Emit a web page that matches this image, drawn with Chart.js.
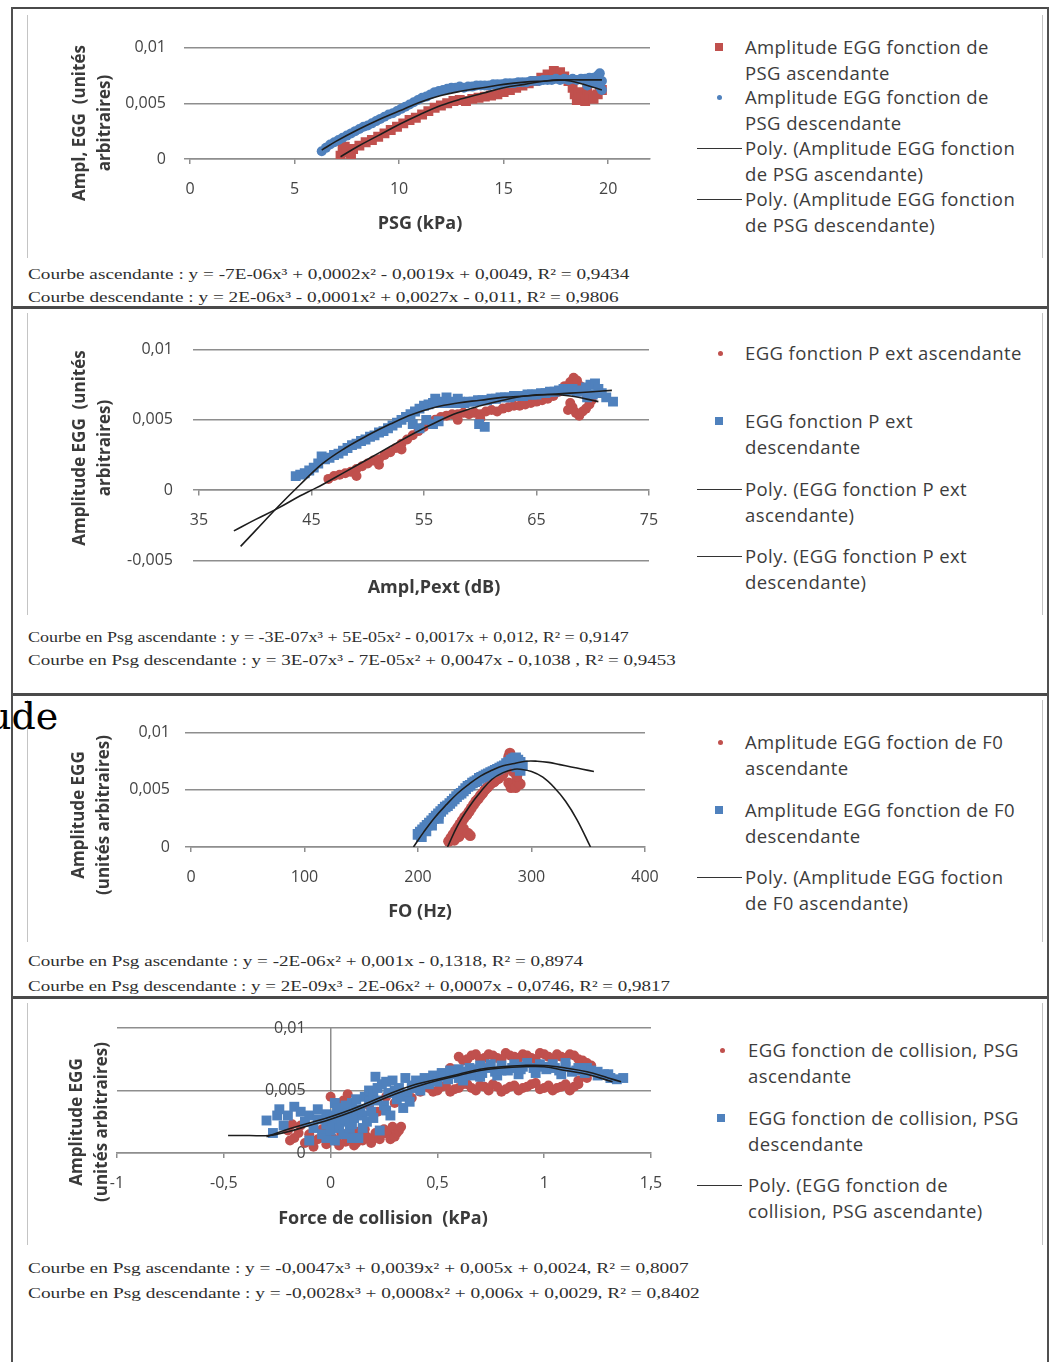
<!DOCTYPE html>
<html lang="fr">
<head>
<meta charset="utf-8">
<title>Amplitude EGG</title>
<script src="https://cdn.jsdelivr.net/npm/chart.js@4"></script>
<style>
  html, body { margin: 0; padding: 0; background: #fff; }
  body { width: 1056px; height: 1362px; position: relative; overflow: hidden; font-family: 'Open Sans', sans-serif; color: #3a3a3a; }
  canvas { position: absolute; }
  .sep { position: absolute; height: 0; border-top: 3px solid #4a4a4a; }
  .vl { position: absolute; width: 0; border-left: 2px solid #505050; }
  .vlight { position: absolute; width: 0; border-left: 1px solid #c4c4c4; }
  .leg { position: absolute; left: 745px; font-size: 18.5px; letter-spacing: 0.4px; line-height: 26px; color: #3c3c3c; white-space: nowrap; }
  .mk { position: absolute; }
  .ln { position: absolute; left: 697px; width: 45px; height: 0; border-top: 1.5px solid #333; }
  .eq { position: absolute; left: 28px; font-family: 'Liberation Serif', serif; font-size: 15px; line-height: 20px; color: #2e2e2e; white-space: nowrap; transform-origin: 0 50%; }
  .ttl { position: absolute; font-weight: 700; font-size: 18px; color: #3a3a3a; white-space: nowrap; transform: translate(-50%, -50%); }
  .ytl { position: absolute; font-weight: 700; font-size: 17px; line-height: 25px; text-align: center; color: #3a3a3a; white-space: nowrap; transform: translate(-50%, -50%) rotate(-90deg); }
  .stray { position: absolute; left: -13px; top: 696px; font-family: 'DejaVu Serif', serif; font-size: 38px; line-height: 40px; color: #000; }
</style>
</head>
<body>

<!-- frame -->
<div class="sep" style="left:11px; top:7px; width:1038px; border-top-width:2px"></div>
<div class="sep" style="left:11px; top:306px; width:1038px"></div>
<div class="sep" style="left:11px; top:693px; width:1038px"></div>
<div class="sep" style="left:11px; top:996px; width:1038px"></div>
<div class="vl" style="left:11px; top:7px; height:1355px"></div>
<div class="vl" style="left:1047px; top:7px; height:1355px"></div>
<div class="vlight" style="left:27px; top:15px; height:243px"></div>
<div class="vlight" style="left:1042px; top:15px; height:243px"></div>
<div class="vlight" style="left:27px; top:313px; height:302px"></div>
<div class="vlight" style="left:1042px; top:313px; height:302px"></div>
<div class="vlight" style="left:27px; top:700px; height:242px"></div>
<div class="vlight" style="left:1042px; top:700px; height:242px"></div>
<div class="vlight" style="left:27px; top:1003px; height:242px"></div>
<div class="vlight" style="left:1042px; top:1003px; height:242px"></div>

<div class="stray">ude</div>

<canvas id="c1"></canvas>
<canvas id="c2"></canvas>
<canvas id="c3"></canvas>
<canvas id="c4"></canvas>

<!-- panel 1 -->
<div class="ytl" style="left:91px; top:123px">Ampl, EGG&nbsp; (unités<br>arbitraires)</div>
<div class="ttl" style="left:420px; top:222px">PSG (kPa)</div>
<div class="mk" style="left:715px; top:43px; width:8px; height:8px; background:#c0504d"></div>
<div class="leg" style="top:34px">Amplitude EGG fonction de<br>PSG ascendante</div>
<div class="mk" style="left:717px; top:95px; width:5px; height:5px; border-radius:50%; background:#4f81bd"></div>
<div class="leg" style="top:84px">Amplitude EGG fonction de<br>PSG descendante</div>
<div class="ln" style="top:148px"></div>
<div class="leg" style="top:135px">Poly. (Amplitude EGG fonction<br>de PSG ascendante)</div>
<div class="ln" style="top:199px"></div>
<div class="leg" style="top:186px">Poly. (Amplitude EGG fonction<br>de PSG descendante)</div>
<div class="eq" data-w="601" style="top:264px">Courbe ascendante : y = -7E-06x³ + 0,0002x² - 0,0019x + 0,0049, R² = 0,9434</div>
<div class="eq" data-w="590" style="top:287px">Courbe descendante : y = 2E-06x³ - 0,0001x² + 0,0027x - 0,011, R² = 0,9806</div>

<!-- panel 2 -->
<div class="ytl" style="left:91px; top:448px">Amplitude EGG&nbsp; (unités<br>arbitraires)</div>
<div class="ttl" style="left:434px; top:586px">Ampl,Pext (dB)</div>
<div class="mk" style="left:718px; top:351px; width:5px; height:5px; border-radius:50%; background:#c0504d"></div>
<div class="leg" style="top:340px">EGG fonction P ext ascendante</div>
<div class="mk" style="left:715px; top:417px; width:8px; height:8px; background:#4f81bd"></div>
<div class="leg" style="top:408px">EGG fonction P ext<br>descendante</div>
<div class="ln" style="top:489px"></div>
<div class="leg" style="top:476px">Poly. (EGG fonction P ext<br>ascendante)</div>
<div class="ln" style="top:556px"></div>
<div class="leg" style="top:543px">Poly. (EGG fonction P ext<br>descendante)</div>
<div class="eq" data-w="601" style="top:627px">Courbe en Psg ascendante : y = -3E-07x³ + 5E-05x² - 0,0017x + 0,012, R² = 0,9147</div>
<div class="eq" data-w="648" style="top:650px">Courbe en Psg descendante : y = 3E-07x³ - 7E-05x² + 0,0047x - 0,1038 , R² = 0,9453</div>

<!-- panel 3 -->
<div class="ytl" style="left:90px; top:815px">Amplitude EGG<br>(unités arbitraires)</div>
<div class="ttl" style="left:420px; top:910px">FO (Hz)</div>
<div class="mk" style="left:718px; top:740px; width:5px; height:5px; border-radius:50%; background:#c0504d"></div>
<div class="leg" style="top:729px">Amplitude EGG foction de F0<br>ascendante</div>
<div class="mk" style="left:715px; top:806px; width:8px; height:8px; background:#4f81bd"></div>
<div class="leg" style="top:797px">Amplitude EGG fonction de F0<br>descendante</div>
<div class="ln" style="top:877px"></div>
<div class="leg" style="top:864px">Poly. (Amplitude EGG foction<br>de F0 ascendante)</div>
<div class="eq" data-w="555" style="top:951px">Courbe en Psg ascendante : y = -2E-06x² + 0,001x - 0,1318, R² = 0,8974</div>
<div class="eq" data-w="642" style="top:976px">Courbe en Psg descendante : y = 2E-09x³ - 2E-06x² + 0,0007x - 0,0746, R² = 0,9817</div>

<!-- panel 4 -->
<div class="ytl" style="left:88px; top:1122px">Amplitude EGG<br>(unités arbitraires)</div>
<div class="ttl" style="left:383px; top:1217px">Force de collision&nbsp; (kPa)</div>
<div class="mk" style="left:720px; top:1048px; width:5px; height:5px; border-radius:50%; background:#c0504d"></div>
<div class="leg" style="left:748px; top:1037px">EGG fonction de collision, PSG<br>ascendante</div>
<div class="mk" style="left:717px; top:1114px; width:8px; height:8px; background:#4f81bd"></div>
<div class="leg" style="left:748px; top:1105px">EGG fonction de collision, PSG<br>descendante</div>
<div class="ln" style="top:1185px"></div>
<div class="leg" style="left:748px; top:1172px">Poly. (EGG fonction de<br>collision, PSG ascendante)</div>
<div class="eq" data-w="660" style="top:1258px">Courbe en Psg ascendante : y = -0,0047x³ + 0,0039x² + 0,005x + 0,0024, R² = 0,8007</div>
<div class="eq" data-w="672" style="top:1283px">Courbe en Psg descendante : y = -0,0028x³ + 0,0008x² + 0,006x + 0,0029, R² = 0,8402</div>

<script>
// axis ticks
const ampTicks = [0, 0.005, 0.01];
const ampTicksNeg = [-0.005, 0, 0.005, 0.01];
const psgTicks = [0, 5, 10, 15, 20];
const pextTicks = [35, 45, 55, 65, 75];
const f0Ticks = [0, 100, 200, 300, 400];
const collTicks = [-1, -0.5, 0, 0.5, 1, 1.5];

// Amplitude EGG vs PSG (kPa)
const psgAsc = [[7.2,0.0003],[7.3,0.0009],[7.4,0.0011],[7.5,0.0006],[7.7,0.0004],[7.8,0.0009],[8.1,0.0012],[8.4,0.0015],[8.7,0.0017],
  [9.0,0.0020],[9.3,0.0023],[9.6,0.0026],[9.9,0.0029],[10.2,0.0032],[10.5,0.0035],[10.8,0.0037],[11.1,0.0040],
  [11.4,0.0043],[11.7,0.0046],[12.0,0.0048],[12.3,0.0050],[12.6,0.0052],[12.9,0.0053],[13.2,0.0052],[13.5,0.0054],
  [13.8,0.0055],[14.1,0.0056],[14.4,0.0057],[14.7,0.0058],[15.0,0.0060],[15.3,0.0062],[15.6,0.0064],[15.9,0.0066],
  [16.2,0.0068],[16.5,0.0070],[16.8,0.0073],[17.1,0.0076],[17.4,0.0079],[17.7,0.0078],[17.9,0.0074],[18.1,0.0070],[18.3,0.0064],
  [18.4,0.0058],[18.5,0.0053],[18.6,0.0060],[18.7,0.0055],[18.9,0.0052],[19.0,0.0062],[19.1,0.0057],[19.3,0.0054],[19.5,0.0058],
  [19.6,0.0066],[19.7,0.0062]];
const psgDesc = [[6.3,0.0007],[6.5,0.0010],[6.7,0.0013],[6.9,0.0015],[7.1,0.0017],[7.3,0.0019],[7.5,0.0021],[7.7,0.0023],[7.9,0.0025],
  [8.1,0.0027],[8.3,0.0029],[8.5,0.0030],[8.7,0.0032],[8.9,0.0034],[9.1,0.0036],[9.3,0.0038],[9.5,0.0040],[9.7,0.0041],[9.9,0.0043],
  [10.1,0.0045],[10.3,0.0047],[10.5,0.0049],[10.7,0.0051],[10.9,0.0053],[11.1,0.0055],[11.3,0.0056],[11.5,0.0058],[11.7,0.0060],
  [11.9,0.0061],[12.1,0.0062],[12.3,0.0063],[12.5,0.0064],[12.7,0.0064],[12.9,0.0065],[13.1,0.0064],[13.3,0.0065],[13.5,0.0065],
  [13.7,0.0066],[13.9,0.0066],[14.1,0.0066],[14.3,0.0066],[14.5,0.0067],[14.7,0.0067],[14.9,0.0067],[15.1,0.0068],[15.3,0.0068],
  [15.5,0.0068],[15.7,0.0069],[15.9,0.0069],[16.1,0.0069],[16.3,0.0070],[16.5,0.0070],[16.7,0.0070],[16.9,0.0071],[17.1,0.0071],
  [17.3,0.0071],[17.5,0.0072],[17.7,0.0071],[17.9,0.0072],[18.1,0.0071],[18.3,0.0072],[18.5,0.0071],[18.7,0.0072],[18.9,0.0072],
  [19.0,0.0066],[19.1,0.0073],[19.3,0.0073],[19.4,0.0068],[19.5,0.0075],[19.6,0.0077],[19.6,0.0065],[19.7,0.0070],[19.7,0.0062]];
const polyPsgAsc = [[7.2,0.0002],[8,0.0011],[9,0.0021],[10,0.0031],[11,0.0040],[12,0.0048],[13,0.0054],[14,0.0059],[15,0.0064],
  [16,0.0067],[17,0.0070],[17.6,0.0071],[18.2,0.0070],[19,0.0066],[19.7,0.0062]];
const polyPsgDesc = [[6.3,0.0008],[7,0.0016],[8,0.0026],[9,0.0035],[10,0.0043],[11,0.0051],[12,0.0057],[13,0.0061],[14,0.0064],
  [15,0.0067],[16,0.0069],[17,0.0070],[18,0.0071],[19,0.0071],[19.7,0.0071]];

// Amplitude EGG vs Ampl,Pext (dB)
const pextAsc = [[46.5,0.0008],[47.0,0.0010],[47.5,0.0011],[48.0,0.0012],[48.5,0.0013],[49.0,0.0015],[49.0,0.0010],[49.5,0.0017],
  [50.0,0.0019],[50.5,0.0021],[51.0,0.0022],[51.0,0.0018],[51.5,0.0025],[52.0,0.0027],[52.5,0.0030],[53.0,0.0033],[53.0,0.0029],
  [53.5,0.0036],[54.0,0.0039],[54.5,0.0042],[55.0,0.0045],[55.5,0.0048],[56.0,0.0050],[56.5,0.0052],[57.0,0.0053],[57.5,0.0054],
  [58.0,0.0054],[58.0,0.0050],[58.5,0.0055],[59.0,0.0054],[59.5,0.0055],[60.0,0.0054],[60.0,0.0051],[60.5,0.0056],[61.0,0.0057],
  [61.5,0.0056],[62.0,0.0058],[62.5,0.0059],[63.0,0.0060],[63.5,0.0060],[64.0,0.0061],[64.5,0.0062],[65.0,0.0063],[65.5,0.0064],
  [66.0,0.0065],[66.5,0.0067],[67.0,0.0070],[67.5,0.0074],[68.0,0.0077],[68.3,0.0080],[68.6,0.0078],[68.9,0.0074],[68.2,0.0059],
  [68.5,0.0055],[68.8,0.0053],[69.1,0.0056],[69.4,0.0058],[69.7,0.0061],[69.9,0.0064],[68.0,0.0062],[67.8,0.0057],[69.5,0.0067]];
const pextDesc = [[43.6,0.0010],[44.0,0.0011],[44.4,0.0012],[44.8,0.0014],[45.2,0.0016],[45.6,0.0019],[45.9,0.0024],[46.2,0.0022],
  [46.6,0.0023],[47.0,0.0025],[47.4,0.0026],[47.8,0.0028],[48.2,0.0030],[48.6,0.0032],[49.0,0.0033],[49.4,0.0035],[49.8,0.0036],
  [50.2,0.0038],[50.6,0.0039],[51.0,0.0041],[51.4,0.0042],[51.8,0.0044],[52.2,0.0046],[52.6,0.0048],[53.0,0.0050],[53.4,0.0052],
  [53.8,0.0054],[54.2,0.0056],[54.6,0.0058],[55.0,0.0060],[55.4,0.0061],[55.8,0.0062],[56.0,0.0065],[56.2,0.0062],[56.6,0.0063],
  [57.0,0.0062],[57.0,0.0066],[57.4,0.0063],[57.8,0.0062],[58.0,0.0065],[58.2,0.0063],[58.6,0.0062],[59.0,0.0063],[59.4,0.0063],
  [59.8,0.0064],[60.2,0.0064],[60.6,0.0064],[61.0,0.0065],[61.4,0.0065],[61.8,0.0066],[62.2,0.0066],[62.6,0.0066],[63.0,0.0067],
  [63.4,0.0067],[63.8,0.0067],[64.2,0.0068],[64.6,0.0068],[65.0,0.0068],[65.4,0.0069],[65.8,0.0069],[66.2,0.0070],[66.6,0.0070],
  [67.0,0.0071],[67.4,0.0072],[67.8,0.0071],[68.2,0.0072],[68.6,0.0070],[69.0,0.0071],[69.4,0.0073],[69.8,0.0075],[70.2,0.0076],
  [70.5,0.0072],[70.8,0.0069],[71.2,0.0066],[71.8,0.0063],[70.0,0.0068],[69.5,0.0066],
  [54.0,0.0047],[54.6,0.0044],[55.2,0.0050],[55.8,0.0047],[56.3,0.0049],[59.9,0.0047],[60.4,0.0045]];
const polyPextAsc = [[38.1,-0.0029],[40,-0.0021],[42,-0.0013],[44,-0.0004],[45,0.0000],[46,0.0004],[48,0.0013],[50,0.0022],
  [52,0.0031],[54,0.0040],[56,0.0048],[58,0.0055],[60,0.0060],[62,0.0064],[64,0.0067],[66,0.0068],[68,0.0067],[70.5,0.0063]];
const polyPextDesc = [[38.7,-0.0040],[40,-0.0029],[42,-0.0012],[44,0.0004],[46,0.0019],[48,0.0030],[50,0.0039],[52,0.0047],
  [54,0.0054],[56,0.0059],[58,0.0062],[60,0.0064],[62,0.0066],[64,0.0067],[66,0.0068],[68,0.0069],[70,0.0070],[71.7,0.0071]];

// Amplitude EGG vs F0 (Hz)
const f0Asc = [[229,0.0008],[231,0.0011],[233,0.0014],[235,0.0017],[237,0.0020],[239,0.0023],[241,0.0026],[243,0.0028],[245,0.0031],
  [247,0.0034],[249,0.0037],[251,0.0040],[253,0.0042],[255,0.0045],[257,0.0047],[259,0.0050],[261,0.0052],[263,0.0054],[265,0.0056],
  [267,0.0057],[269,0.0059],[271,0.0060],[273,0.0062],[275,0.0064],[277,0.0068],[279,0.0074],[280,0.0079],[281,0.0082],[282,0.0078],
  [280,0.0056],[282,0.0052],[284,0.0055],[286,0.0052],[288,0.0057],[290,0.0055],[287,0.0062],[284,0.0066],
  [227,0.0005],[232,0.0006],[236,0.0009],[240,0.0016],[244,0.0012],[246,0.0010]];
const f0Desc = [[200,0.0011],[202,0.0013],[204,0.0015],[206,0.0017],[208,0.0019],[210,0.0021],[212,0.0023],[214,0.0025],[216,0.0027],
  [218,0.0029],[220,0.0031],[222,0.0033],[224,0.0035],[226,0.0036],[228,0.0038],[230,0.0040],[232,0.0042],[234,0.0044],[236,0.0046],
  [238,0.0047],[240,0.0049],[242,0.0051],[244,0.0053],[246,0.0054],[248,0.0056],[250,0.0057],[252,0.0058],[254,0.0060],[256,0.0061],
  [258,0.0062],[260,0.0063],[262,0.0064],[264,0.0065],[266,0.0066],[268,0.0067],[270,0.0068],[272,0.0069],[274,0.0070],[276,0.0071],
  [278,0.0073],[280,0.0074],[282,0.0076],[284,0.0077],[286,0.0078],[288,0.0076],[290,0.0074],[292,0.0071],[287,0.0070],[290,0.0067],
  [203,0.0009],[207,0.0014],[212,0.0019],[218,0.0025]];
const polyF0Asc = [[226,0],[235,0.0019],[245,0.0035],[255,0.0048],[265,0.0059],[275,0.0065],[285,0.0068],[290,0.0068],[300,0.0066],
  [310,0.0061],[320,0.0052],[330,0.0040],[340,0.0024],[352,0]];
const polyF0Desc = [[196,0],[205,0.0013],[215,0.0026],[225,0.0037],[235,0.0047],[245,0.0055],[255,0.0062],[265,0.0067],[275,0.0071],
  [285,0.0073],[295,0.0075],[305,0.0075],[315,0.0074],[325,0.0072],[335,0.0070],[345,0.0068],[355,0.0066]];

// Amplitude EGG vs force de collision (kPa)
const collAsc = [[-0.20,0.0018],[-0.18,0.0023],[-0.17,0.0012],[-0.19,0.0010],[-0.15,0.0016],[-0.14,0.0022],[-0.12,0.0008],[-0.10,0.0015],
  [-0.08,0.0005],[-0.06,0.0011],[-0.04,0.0019],[-0.02,0.0007],[0.00,0.0045],[0.02,0.0040],[0.01,0.0012],[0.04,0.0006],[0.03,0.0009],
  [0.06,0.0042],[0.08,0.0047],[0.07,0.0009],[0.05,0.0016],[0.08,0.0011],[0.09,0.0014],[0.11,0.0006],[0.12,0.0008],[0.13,0.0017],
  [0.14,0.0014],[0.15,0.0010],[0.16,0.0019],[0.17,0.0013],[0.19,0.0008],[0.20,0.0012],[0.21,0.0016],[0.23,0.0011],[0.24,0.0015],
  [0.25,0.0019],[0.27,0.0015],[0.28,0.0011],[0.29,0.0021],[0.30,0.0013],[0.31,0.0016],[0.32,0.0018],[0.33,0.0021],
  [0.12,0.0030],[0.18,0.0038],[0.22,0.0033],[0.26,0.0045],[0.30,0.0040],[0.34,0.0047],[0.38,0.0044],[0.42,0.0049],[0.46,0.0052],
  [0.48,0.0049],[0.50,0.0050],[0.52,0.0053],[0.54,0.0054],[0.56,0.0049],[0.58,0.0051],[0.60,0.0052],[0.62,0.0055],[0.64,0.0055],
  [0.66,0.0052],[0.68,0.0050],[0.70,0.0054],[0.72,0.0053],[0.74,0.0050],[0.76,0.0055],[0.78,0.0053],[0.80,0.0049],[0.82,0.0051],
  [0.84,0.0053],[0.86,0.0054],[0.88,0.0050],[0.90,0.0052],[0.92,0.0053],[0.94,0.0055],[0.96,0.0056],[0.98,0.0051],[1.00,0.0052],
  [1.02,0.0054],[1.04,0.0050],[1.06,0.0052],[1.08,0.0053],[1.10,0.0055],[1.12,0.0050],[1.14,0.0053],[1.16,0.0055],
  [0.60,0.0077],[0.62,0.0074],[0.64,0.0075],[0.66,0.0078],[0.68,0.0079],[0.70,0.0075],[0.72,0.0076],[0.74,0.0079],[0.76,0.0078],
  [0.78,0.0076],[0.80,0.0075],[0.82,0.0080],[0.84,0.0078],[0.86,0.0077],[0.88,0.0076],[0.90,0.0079],[0.92,0.0078],[0.94,0.0076],
  [0.96,0.0075],[0.98,0.0080],[1.00,0.0079],[1.02,0.0077],[1.04,0.0075],[1.06,0.0079],[1.08,0.0077],[1.10,0.0076],[1.12,0.0079],
  [1.14,0.0078],[1.16,0.0075],[1.18,0.0074],[1.20,0.0072],[1.22,0.0070],[1.20,0.0060],[1.16,0.0058],[0.56,0.0068],[0.60,0.0064]];
const collDesc = [[-0.30,0.0026],[-0.27,0.0016],[-0.25,0.0030],[-0.24,0.0035],[-0.22,0.0022],[-0.20,0.0030],[-0.17,0.0037],[-0.14,0.0033],
  [-0.12,0.0025],[-0.10,0.0030],[-0.10,0.0010],[-0.08,0.0020],[-0.06,0.0027],[-0.06,0.0035],[-0.04,0.0015],[-0.02,0.0023],
  [-0.02,0.0031],[-0.02,0.0012],[0.00,0.0018],[0.00,0.0030],[0.01,0.0025],[0.02,0.0010],[0.02,0.0040],[0.03,0.0036],[0.04,0.0020],
  [0.04,0.0031],[0.05,0.0025],[0.06,0.0015],[0.07,0.0027],[0.07,0.0038],[0.08,0.0032],[0.09,0.0020],[0.10,0.0040],[0.10,0.0012],
  [0.10,0.0023],[0.11,0.0028],[0.12,0.0033],[0.12,0.0043],[0.13,0.0012],[0.14,0.0035],[0.15,0.0020],[0.15,0.0030],[0.16,0.0045],
  [0.17,0.0025],[0.18,0.0050],[0.18,0.0041],[0.19,0.0033],[0.20,0.0028],[0.20,0.0047],[0.21,0.0061],[0.22,0.0042],[0.22,0.0052],
  [0.23,0.0018],[0.24,0.0055],[0.25,0.0038],[0.26,0.0034],[0.26,0.0057],[0.27,0.0048],[0.28,0.0030],[0.29,0.0058],[0.30,0.0050],
  [0.31,0.0043],[0.32,0.0052],[0.33,0.0045],[0.34,0.0036],[0.35,0.0060],[0.36,0.0047],[0.37,0.0041],[0.38,0.0054],[0.40,0.0058],
  [0.40,0.0052],[0.42,0.0050],[0.43,0.0056],[0.44,0.0060],[0.46,0.0055],[0.47,0.0059],[0.48,0.0062],[0.50,0.0057],[0.52,0.0064],
  [0.53,0.0061],[0.55,0.0059],[0.56,0.0066],[0.58,0.0063],[0.60,0.0060],[0.60,0.0067],[0.62,0.0058],[0.63,0.0065],[0.65,0.0068],
  [0.66,0.0062],[0.68,0.0067],[0.70,0.0070],[0.70,0.0061],[0.71,0.0064],[0.74,0.0068],[0.75,0.0071],[0.77,0.0065],[0.78,0.0062],
  [0.80,0.0070],[0.80,0.0066],[0.83,0.0066],[0.85,0.0068],[0.86,0.0071],[0.88,0.0063],[0.89,0.0067],[0.90,0.0069],[0.92,0.0072],
  [0.95,0.0068],[0.96,0.0064],[0.98,0.0071],[1.00,0.0069],[1.01,0.0067],[1.04,0.0071],[1.05,0.0068],[1.07,0.0066],[1.08,0.0063],
  [1.10,0.0069],[1.10,0.0072],[1.13,0.0065],[1.15,0.0066],[1.16,0.0068],[1.19,0.0064],[1.20,0.0068],[1.22,0.0066],[1.25,0.0062],
  [1.25,0.0065],[1.28,0.0063],[1.30,0.0063],[1.31,0.0060],[1.34,0.0059],[1.37,0.0060]];
const polyCollAsc = [[-0.48,0.0014],[-0.38,0.0014],[-0.29,0.0014],[-0.2,0.0017],[-0.1,0.0022],[0,0.0027],[0.1,0.0033],[0.2,0.0040],
  [0.3,0.0047],[0.4,0.0053],[0.5,0.0058],[0.6,0.0062],[0.7,0.0066],[0.8,0.0068],[0.9,0.0069],[1.0,0.0069],[1.1,0.0066],[1.2,0.0063],
  [1.32,0.0057]];
const polyCollDesc = [[-0.3,0.0013],[-0.2,0.0019],[-0.1,0.0024],[0,0.0029],[0.1,0.0035],[0.2,0.0042],[0.3,0.0049],[0.4,0.0055],
  [0.5,0.0059],[0.6,0.0063],[0.7,0.0067],[0.8,0.0069],[0.9,0.0070],[1.0,0.0070],[1.1,0.0068],[1.2,0.0065],[1.3,0.0060],[1.36,0.0057]];

const RED = '#c0504d';
const BLUE = '#4f81bd';
const GRID = '#8e8e8e';
const tickFont = { family: "'Open Sans', sans-serif", size: 16 };

const fmt = v => String(v).replace('.', ',');
const pts = arr => arr.map(([x, y]) => ({ x, y }));

function cloud(data, color, style, r, order) {
  return { data: pts(data), pointBackgroundColor: color, backgroundColor: color, pointBorderWidth: 0,
    pointStyle: style, pointRadius: r, pointHoverRadius: r, order };
}
function trend(data) {
  return { data: pts(data), showLine: true, borderColor: '#1d1d1d', borderWidth: 1.6, pointRadius: 0,
    tension: 0.4, fill: false, order: 0 };
}

// box: canvas placement on the page, area: wanted plot rectangle
function panel(id, box, area, o) {
  const canvas = document.getElementById(id);
  canvas.width = box.w;
  canvas.height = box.h;
  canvas.style.left = box.x + 'px';
  canvas.style.top = box.y + 'px';
  const yw = o.yAtZero ? 0 : 100;
  const xh = o.xAtZero ? 0 : 50;
  // labels of an axis crossing at x = 0 sit right on the line, so pad them
  const yLabel = o.yAtZero ? v => fmt(v) + '\u00a0'.repeat(6) : fmt;
  return new Chart(canvas, {
    type: 'scatter',
    data: { datasets: o.datasets },
    options: {
      responsive: false, animation: false, devicePixelRatio: 1,
      layout: { padding: { left: area.l - box.x - yw, top: area.t - box.y,
        right: box.x + box.w - area.r, bottom: box.y + box.h - area.b - xh } },
      plugins: { legend: { display: false }, tooltip: { enabled: false } },
      scales: {
        x: {
          type: 'linear', min: o.xMin, max: o.xMax,
          position: o.xAtZero ? { y: 0 } : 'bottom',
          afterBuildTicks: s => { s.ticks = o.xTicks.map(v => ({ value: v })); },
          afterFit: s => { s.height = xh; },
          grid: { drawOnChartArea: false, drawTicks: true, tickLength: 5, color: GRID, lineWidth: 1.5 },
          border: { display: true, color: GRID, width: 1.5 },
          ticks: { font: tickFont, color: '#444', padding: 16, maxRotation: 0, autoSkip: false, callback: fmt }
        },
        y: {
          type: 'linear', min: o.yMin, max: o.yMax,
          position: o.yAtZero ? { x: 0 } : 'left',
          afterBuildTicks: s => { s.ticks = o.yTicks.map(v => ({ value: v })); },
          afterFit: s => { s.width = yw; },
          grid: { drawTicks: !o.yAtZero, tickLength: 6, color: GRID, lineWidth: 1.5 },
          border: { display: !!o.yAtZero, color: GRID, width: 1.5 },
          ticks: { font: tickFont, color: '#444', padding: o.yPad, autoSkip: false, callback: yLabel }
        }
      }
    }
  });
}

panel('c1', { x: 60, y: 20, w: 630, h: 200 }, { l: 190, t: 35, r: 650, b: 159 }, {
  xMin: 0, xMax: 22, xTicks: psgTicks, yMin: 0, yMax: 0.01, yTicks: ampTicks, yPad: 18,
  datasets: [trend(polyPsgAsc), trend(polyPsgDesc), cloud(psgDesc, BLUE, 'circle', 5, 1), cloud(psgAsc, RED, 'rect', 7, 2)]
});

panel('c2', { x: 60, y: 320, w: 630, h: 270 }, { l: 199, t: 334, r: 649, b: 567 }, {
  xMin: 35, xMax: 75, xTicks: pextTicks, yMin: -0.005, yMax: 0.01, yTicks: ampTicksNeg, yPad: 20, xAtZero: true,
  datasets: [trend(polyPextAsc), trend(polyPextDesc), cloud(pextDesc, BLUE, 'rect', 7, 1), cloud(pextAsc, RED, 'circle', 5, 2)]
});

panel('c3', { x: 60, y: 708, w: 630, h: 200 }, { l: 191, t: 722, r: 645, b: 847 }, {
  xMin: 0, xMax: 400, xTicks: f0Ticks, yMin: 0, yMax: 0.01, yTicks: ampTicks, yPad: 15,
  datasets: [trend(polyF0Asc), trend(polyF0Desc), cloud(f0Desc, BLUE, 'rect', 7.5, 1), cloud(f0Asc, RED, 'circle', 5.5, 2)]
});

panel('c4', { x: 60, y: 1014, w: 630, h: 200 }, { l: 117, t: 1028, r: 651, b: 1153 }, {
  xMin: -1, xMax: 1.5, xTicks: collTicks, yMin: 0, yMax: 0.01, yTicks: ampTicks, yPad: 0, yAtZero: true,
  datasets: [trend(polyCollAsc), trend(polyCollDesc), cloud(collDesc, BLUE, 'rect', 7, 1), cloud(collAsc, RED, 'circle', 5, 2)]
});

// stretch the equation lines to their printed width
document.querySelectorAll('.eq').forEach(el => {
  const w = +el.dataset.w;
  el.style.transform = 'scaleX(' + (w / el.offsetWidth).toFixed(3) + ')';
});
</script>
</body>
</html>
